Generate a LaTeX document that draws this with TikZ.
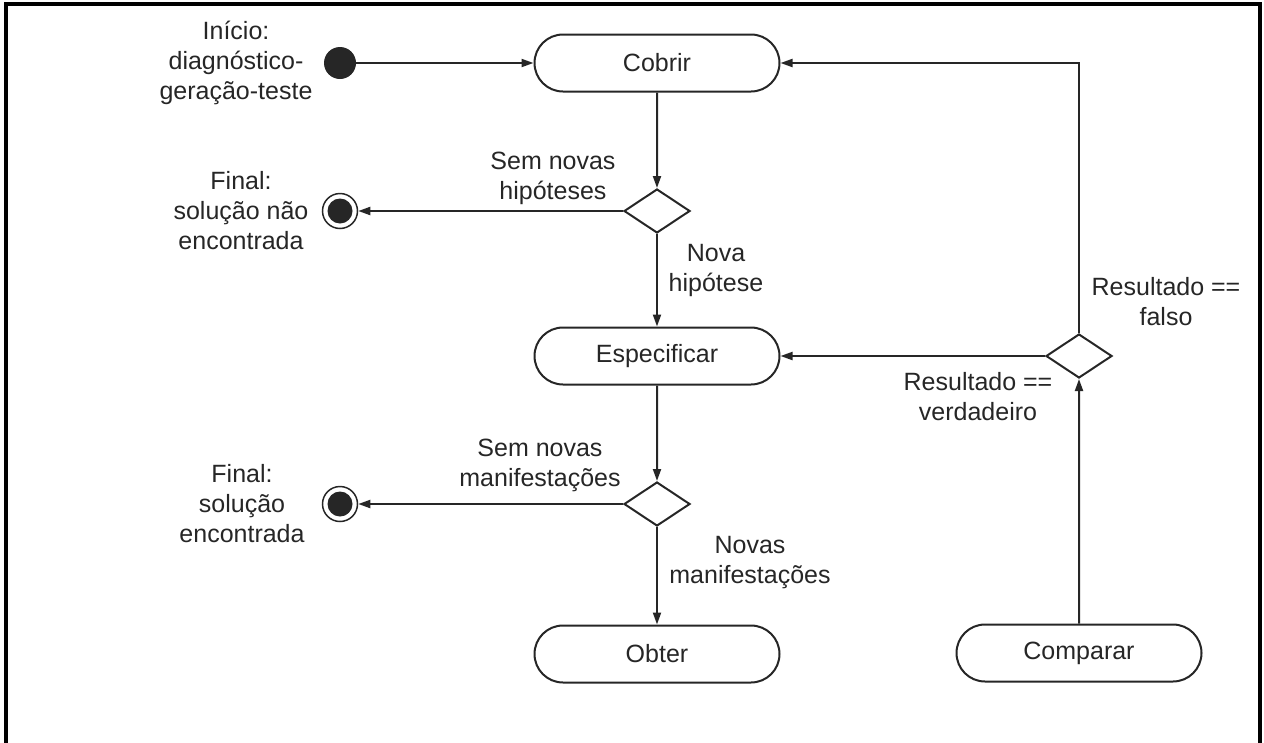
\documentclass[tikz,border=0pt]{standalone}
\usepackage{fontspec}
\setmainfont{Liberation Sans}
\usetikzlibrary{shapes.misc,shapes.geometric,arrows.meta}
\definecolor{ink}{HTML}{262626}
\begin{document}
\begin{tikzpicture}[x=1pt,y=-1pt,
  every node/.style={font=\fontsize{25pt}{30pt}\selectfont, text=ink},
  action/.style={rounded rectangle, draw=ink, line width=2pt,
    minimum width=245pt, minimum height=57pt, inner sep=0pt},
  decision/.style={diamond, draw=ink, line width=2pt,
    minimum width=66pt, minimum height=44pt, inner sep=0pt},
  startdot/.style={circle, fill=ink, minimum size=32pt, inner sep=0pt},
  enddot/.style={circle, draw=ink, line width=1.5pt, minimum size=35pt, inner sep=0pt,
    path picture={\fill[ink] (path picture bounding box.center) circle (12.5pt);}},
  note/.style={align=center, inner sep=0pt},
  flow/.style={draw=ink, line width=2pt, -{Triangle[length=12pt,width=8pt]}},
]
\useasboundingbox (0,0) rectangle (1264,742);
% frame
\draw[line width=3.5pt, black] (6,746) -- (6,4) -- (1260,4) -- (1260,746);

% activities
\node[action] (cobrir) at (657,63) {Cobrir};
\node[action] (esp) at (657,356) {Especificar};
\node[action] (obter) at (657,654) {Obter};
\node[action] (comp) at (1079,653) {Comparar};

% decisions
\node[decision] (d1) at (657,211) {};
\node[decision] (d2) at (657,504) {};
\node[decision] (d3) at (1079,356) {};

% start and end states
\node[startdot] (ini) at (340,63) {};
\node[enddot] (fim1) at (340,211) {};
\node[enddot] (fim2) at (340,504) {};

% state texts
\node[note] (tini) at (236,63) {Início:\\diagnóstico-\\geração-teste};
\node[note] (tfim1) at (241,211) {Final:\\solução não\\encontrada};
\node[note] (tfim2) at (242,504) {Final:\\solução\\encontrada};

% branch texts
\node[note] (lsh) at (553,178) {Sem novas\\hipóteses};
\node[note] (lnh) at (716,270) {Nova\\hipótese};
\node[note] (lsm) at (540,465) {Sem novas\\manifestações};
\node[note] (lnm) at (750,563) {Novas\\manifestações};
\node[note] (lrf) at (1166,302) {Resultado ==\\falso};
\node[note] (lrv) at (978,397) {Resultado ==\\verdadeiro};

% flows
\path[flow] (ini) -- (cobrir.west);
\path[flow] (cobrir) -- (d1);
\path[flow] (d1.west) -- (fim1);
\path[flow] (d1) -- (esp);
\path[flow] (esp) -- (d2);
\path[flow] (d2.west) -- (fim2);
\path[flow] (d2) -- (obter);
\path[flow] (comp) -- (d3);
\path[flow] (d3.west) -- (esp.east);
\path[flow] (d3.north) |- (cobrir.east);
\end{tikzpicture}
\end{document}
